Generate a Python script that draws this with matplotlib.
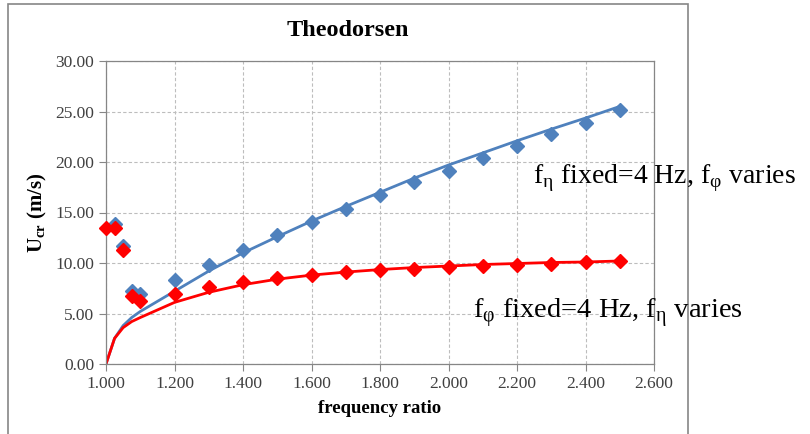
import matplotlib
matplotlib.use("Agg")
import matplotlib.pyplot as plt
from matplotlib.patches import Rectangle

plt.rcParams["font.family"] = ["Liberation Serif", "DejaVu Serif"]
plt.rcParams["mathtext.fontset"] = "custom"
plt.rcParams["mathtext.rm"] = "Liberation Serif"
plt.rcParams["mathtext.bf"] = "Liberation Serif:bold"

# measured critical speeds (markers)
ratio_phi = [1.025, 1.05, 1.075, 1.1, 1.2, 1.3, 1.4, 1.5, 1.6, 1.7, 1.8,
             1.9, 2.0, 2.1, 2.2, 2.3, 2.4, 2.5]
ucr_phi = [13.85, 11.7, 7.25, 6.9, 8.3, 9.8, 11.3, 12.75, 14.05, 15.35, 16.7,
           18.0, 19.1, 20.4, 21.6, 22.8, 23.9, 25.15]

ratio_eta = [1.0, 1.025, 1.05, 1.075, 1.1, 1.2, 1.3, 1.4, 1.5, 1.6, 1.7, 1.8,
             1.9, 2.0, 2.1, 2.2, 2.3, 2.4, 2.5]
ucr_eta = [13.5, 13.5, 11.3, 6.7, 6.2, 6.9, 7.6, 8.15, 8.5, 8.85, 9.1, 9.3,
           9.45, 9.65, 9.75, 9.85, 9.9, 10.05, 10.15]

# Theodorsen predictions (lines)
ratio_th = [1.0, 1.025, 1.05, 1.075, 1.1, 1.2, 1.3, 1.4, 1.5, 1.6, 1.7, 1.8,
            1.9, 2.0, 2.1, 2.2, 2.3, 2.4, 2.5]
theo_phi = [0.0, 2.54, 3.8, 4.6, 5.2, 7.2, 9.2, 11.0, 12.6, 14.15, 15.6, 17.0,
            18.4, 19.7, 20.9, 22.1, 23.25, 24.35, 25.5]
theo_eta = [0.0, 2.54, 3.6, 4.2, 4.6, 6.1, 7.1, 7.85, 8.4, 8.8, 9.1, 9.35,
            9.55, 9.7, 9.85, 9.95, 10.05, 10.1, 10.2]

x_ticks = [1.0, 1.2, 1.4, 1.6, 1.8, 2.0, 2.2, 2.4, 2.6]
y_ticks = [0, 5, 10, 15, 20, 25, 30]

BLUE = "#4F81BD"
RED = "#FF0000"
GRAY = "#868686"

fig = plt.figure(figsize=(8.10, 4.34), dpi=100)
ax = fig.add_axes([106 / 810, 1 - 364 / 434, 548 / 810, 303 / 434])

ax.plot(ratio_th, theo_phi, color=BLUE, lw=2.0, zorder=2)
ax.plot(ratio_th, theo_eta, color=RED, lw=2.0, zorder=2)
ax.plot(ratio_phi, ucr_phi, ls="none", marker="D", ms=7, color=BLUE,
        zorder=3, clip_on=False)
ax.plot(ratio_eta, ucr_eta, ls="none", marker="D", ms=7, color=RED,
        zorder=4, clip_on=False)

ax.set_xlim(1.0, 2.6)
ax.set_ylim(0, 30)
ax.set_xticks(x_ticks)
ax.set_yticks(y_ticks)
ax.set_xticklabels([f"{v:.3f}" for v in x_ticks])
ax.set_yticklabels([f"{v:.2f}" for v in y_ticks])
ax.tick_params(labelsize=12.5, labelcolor="#404040", length=5, width=0.8,
               color=GRAY)
ax.grid(True, color="#BDBDBD", ls=(0, (3, 2)), lw=0.8)
for sp in ax.spines.values():
    sp.set_color(GRAY)
    sp.set_linewidth(0.9)

ax.set_xlabel("frequency ratio", fontsize=13.5, fontweight="bold")
ax.xaxis.set_label_coords(0.5, -0.118)
ax.set_ylabel(r"U$_{\mathbf{cr}}$ (m/s)", fontsize=15, fontweight="bold")
ax.yaxis.set_label_coords(-0.104, 0.5)

fig.text(348 / 810, 1 - 30 / 434, "Theodorsen", fontsize=17.5,
         fontweight="bold", ha="center", va="center")

fig.text(533 / 810, 1 - 183 / 434,
         r"f$_{\mathrm{\eta}}$ fixed=4 Hz, f$_{\mathrm{\varphi}}$ varies",
         fontsize=20, ha="left", va="baseline")
fig.text(473 / 810, 1 - 318 / 434,
         r"f$_{\mathrm{\varphi}}$ fixed=4 Hz, f$_{\mathrm{\eta}}$ varies",
         fontsize=20.5, ha="left", va="baseline")

# chart-area border, open at the bottom edge
fig.patches.append(Rectangle((8 / 810, -0.1), 680 / 810, 1.1 - 4 / 434,
                             transform=fig.transFigure, fill=False,
                             edgecolor=GRAY, lw=1.2, zorder=0))

fig.savefig("out.png", dpi=100)
